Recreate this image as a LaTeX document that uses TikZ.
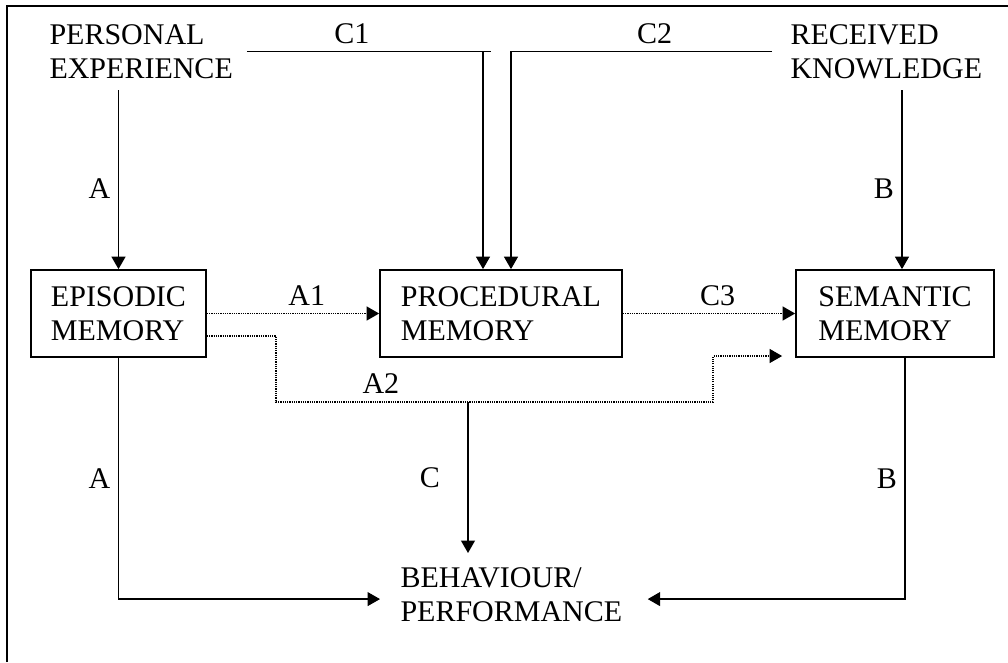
\documentclass[tikz,border=0pt]{standalone}
\usepackage{fontspec}
\setmainfont{Liberation Serif}
\usetikzlibrary{arrows.meta}

\tikzset{
  memorybox/.style={draw,line width=0.7pt,minimum width=#1,minimum height=34.8pt,align=left,inner sep=0pt},
  source/.style={align=left,inner sep=0pt},
  flow/.style={-{Triangle[length=5pt,width=5.6pt]},line width=0.5pt},
  weak/.style={flow,dash pattern=on 0.45pt off 0.45pt},
  lab/.style={inner sep=3pt}
}

\begin{document}
\begin{tikzpicture}[x=0.4pt,y=-0.4pt,font=\fontsize{12}{13.6}\selectfont]
\useasboundingbox (0,0) rectangle (1008,662);
\draw[line width=0.6pt] (7,662) -- (7,6) -- (1008,6);

% sources and memories
\node[source,anchor=north west] (pe) at (49,24) {PERSONAL\\EXPERIENCE};
\node[source,anchor=north west] (rk) at (790,24) {RECEIVED\\KNOWLEDGE};
\node[memorybox=70pt] (epi) at (118.5,313.5) {EPISODIC\\MEMORY};
\node[memorybox=96.8pt] (proc) at (501,313.5) {PROCEDURAL\\MEMORY};
\node[memorybox=79.2pt] (sem) at (895,313.5) {SEMANTIC\\MEMORY};
\node[source,anchor=north west] (beh) at (400,567) {BEHAVIOUR/\\PERFORMANCE};

\coordinate (c1) at (483,51.5);
\coordinate (c2) at (511,51.5);
\coordinate (bx) at ([xshift=2.8pt]sem.north);
\coordinate (a2l) at (276,402);
\coordinate (a2r) at (713,356);
\coordinate (split) at (468,402);

% top inputs
\draw[flow] ([yshift=-4.4pt]pe.south -| epi.north) -- node[left,pos=0.55,lab]{A} (epi.north);
\draw[flow] ([yshift=-4.4pt]rk.south -| bx) -- node[left,pos=0.55,lab]{B} (bx);
\draw[line width=0.5pt] ([xshift=5.4pt]pe.east) -- node[above,pos=0.43,lab]{C1} ([xshift=3.2pt]pe.east -| c1);
\draw[flow] (pe.east -| c1) -- (proc.north -| c1);
\draw[flow] ([xshift=-7.2pt]rk.west) -- node[above,pos=0.45,lab]{C2} (rk.west -| c2) -- (proc.north -| c2);

% dotted links
\draw[weak] (epi.east) -- node[above,pos=0.58,lab]{A1} (proc.west);
\draw[weak] (proc.east) -- node[above,pos=0.55,lab]{C3} (sem.west);
\draw[weak] ([yshift=-9pt]epi.east) -| (a2l) -- node[above,pos=0.24,lab]{A2} (a2r |- a2l)
  -- (a2r) -- ([xshift=-5.2pt]sem.west |- a2r);

% outputs
\draw[flow] (split) -- node[left=8pt,lab]{C} ([yshift=5.6pt]beh.north -| split);
\draw[flow] (epi.south) |- node[left,pos=0.25,lab]{A} ([xshift=-8pt,yshift=-1.8pt]beh.west);
\draw[flow] ([xshift=4pt]sem.south) |- node[left,pos=0.25,lab]{B} ([xshift=10pt,yshift=-1.8pt]beh.east);
\end{tikzpicture}
\end{document}
